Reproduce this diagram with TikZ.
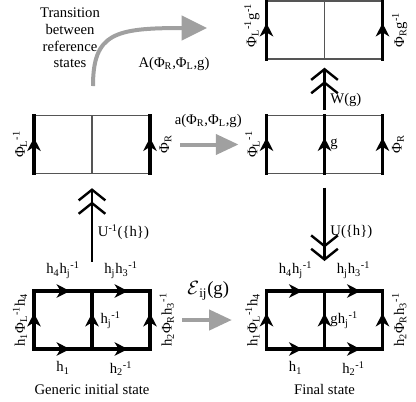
\documentclass[tikz,border=0pt]{standalone}
\usepackage{fontspec}
\setmainfont{Liberation Serif}
\usetikzlibrary{arrows.meta,decorations.markings,positioning}

\definecolor{flowgray}{RGB}{160,160,160}
\definecolor{linkgray}{RGB}{85,85,85}
\newcommand{\lsub}[1]{\textsubscript{#1}}
\newcommand{\lsup}[1]{\textsuperscript{#1}}

\tikzset{
  plaq/.style={minimum width=87pt,minimum height=43.5pt,inner sep=0pt,outer sep=0pt},
  heavy/.style={line width=2.3pt,line cap=rect},
  light/.style={line width=1pt,linkgray},
  midarrow/.style={postaction={decorate},decoration={markings,
      mark=at position 0.62 with {\arrow{Stealth[length=10pt,width=10pt,inset=3pt]}}}},
  lleft/.style={rotate=90,anchor=south,inner ysep=4pt},
  lright/.style={rotate=90,anchor=north,inner ysep=6pt},
  gauge/.style={line width=2.2pt,-{Straight Barb[length=8pt,width=20pt,line width=1.8pt]Straight Barb[length=8pt,width=20pt,line width=1.8pt]}},
  flow/.style={draw=flowgray,line width=3pt,-{Triangle[length=17pt,width=15pt]}},
}

\begin{document}
\begin{tikzpicture}[x=0.75pt,y=-0.75pt,font=\fontsize{11}{12.5}\selectfont]
\useasboundingbox (0,0) rectangle (416,401);
% plaquettes
\node[plaq] (refL) at (92,144.5) {};
\node[plaq] (refR) at (324.5,144.5) {};
\node[plaq] (refW) at (324.5,30) {};
\node[plaq] (init) at (92,320) {};
\node[plaq] (final) at (324.5,320) {};

% reference state, left
\draw[light] (refL.north west) -- (refL.north east) (refL.south west) -- (refL.south east) (refL.north) -- (refL.south);
\draw[heavy,midarrow] (refL.south west) -- node[lleft] (refLl) {Φ\lsub{L}\lsup{-1}} (refL.north west);
\draw[heavy,midarrow] (refL.south east) -- node[lright] (refLr) {Φ\lsub{R}} (refL.north east);

% reference state, right
\draw[light] (refR.north west) -- (refR.north east) (refR.south west) -- (refR.south east);
\draw[heavy,midarrow] (refR.south west) -- node[lleft] (refRl) {Φ\lsub{L}\lsup{-1}} (refR.north west);
\draw[heavy,midarrow] (refR.south) -- node[right] (refRm) {g} (refR.north);
\draw[heavy,midarrow] (refR.south east) -- node[lright] (refRr) {Φ\lsub{R}} (refR.north east);

% after W(g)
\draw[light] (refW.north west) -- (refW.north east) (refW.south west) -- (refW.south east) (refW.north) -- (refW.south);
\draw[heavy,midarrow] (refW.south west) -- node[lleft,pos=0.58] (refWl) {Φ\lsub{L}\lsup{-1}g\lsup{-1}} (refW.north west);
\draw[heavy,midarrow] (refW.south east) -- node[lright] (refWr) {Φ\lsub{R}g\lsup{-1}} (refW.north east);

% generic states
\foreach \p in {init,final}{
  \draw[heavy,midarrow] (\p.north west) -- node[above=5pt] (\p t1) {h\lsub{4}h\lsub{j}\lsup{-1}} (\p.north);
  \draw[heavy,midarrow] (\p.north) -- node[above=5pt] (\p t2) {h\lsub{j}h\lsub{3}\lsup{-1}} (\p.north east);
  \draw[heavy,midarrow] (\p.south west) -- node[below=5pt] (\p b1) {h\lsub{1}} (\p.south);
  \draw[heavy,midarrow] (\p.south) -- node[below=5pt] (\p b2) {h\lsub{2}\lsup{-1}} (\p.south east);
  \draw[heavy,midarrow] (\p.south west) -- node[lleft] (\p l) {h\lsub{1}Φ\lsub{L}\lsup{-1}h\lsub{4}} (\p.north west);
  \draw[heavy,midarrow] (\p.south east) -- node[lright] (\p r) {h\lsub{2}Φ\lsub{R}h\lsub{3}\lsup{-1}} (\p.north east);
}
\draw[heavy,midarrow] (init.south) -- node[right=2pt] (initm) {h\lsub{j}\lsup{-1}} (init.north);
\draw[heavy,midarrow] (final.south) -- node[right] (finalm) {gh\lsub{j}\lsup{-1}} (final.north);
\node[below=23pt of init] (initcap) {Generic initial state};
\node[below=23pt of final] (finalcap) {Final state};

% gauge transformations
\draw[gauge,shorten <=22pt,shorten >=11pt] (init.north) -- node[right] (Uinv) {U\lsup{-1}(\{h\})} (refL.south);
\draw[gauge,shorten <=4.5pt,shorten >=6.5pt] (refR.north) -- node[right,pos=0.28] (Wg) {W(g)} (refW.south);
\draw[gauge,shorten <=10.5pt,shorten >=22.5pt] (refR.south) -- node[right] (U) {U(\{h\})} (final.north);

% transitions
\draw[flow,shorten <=22.5pt,shorten >=21pt] (refL.east) -- node[above=8pt] (alab) {a(Φ\lsub{R},Φ\lsub{L},g)} (refR.west);
\draw[flow,shorten <=24pt,shorten >=26pt] (init.east) -- node[above=10pt,font=\fontsize{14}{16}\selectfont] (elab) {$\mathcal{E}$\lsub{ij}(g)} (final.west);
\coordinate (bendfrom) at (93,86);
\coordinate (bendto) at (207,28);
\draw[flow,-{Triangle[length=19pt,width=18pt]}] (bendfrom) .. controls (93,33) and (115,28) .. (bendto);
\node (Alab) at (174,64) {A(Φ\lsub{R},Φ\lsub{L},g)};
\node[align=center] (caption) at (70,38) {Transition\\between\\reference\\states};
\end{tikzpicture}
\end{document}
